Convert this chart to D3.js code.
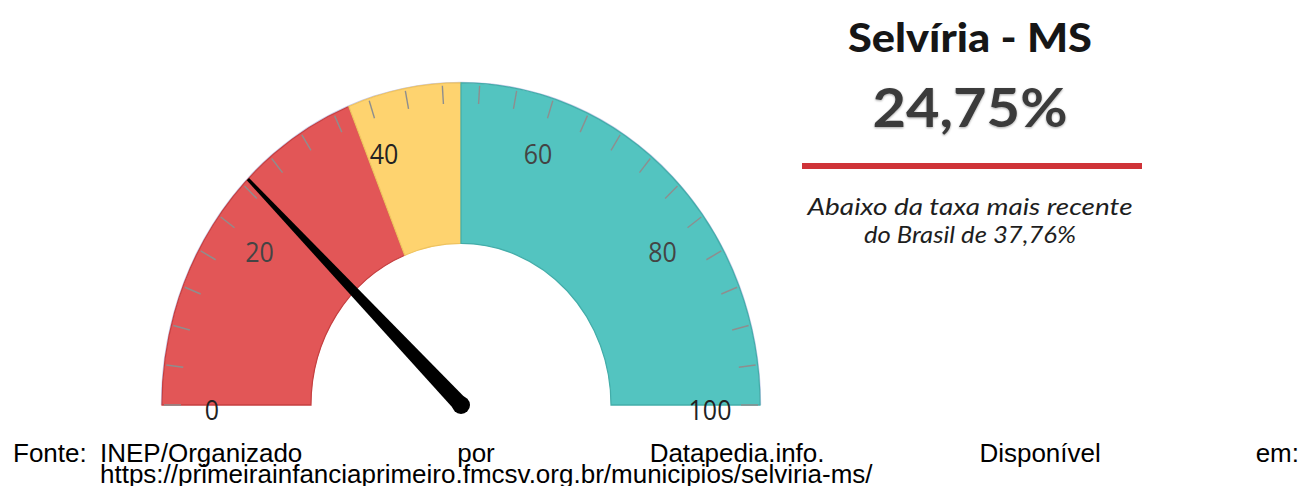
<!DOCTYPE html>
<html>
<head>
<meta charset="utf-8">
<script src="https://cdn.jsdelivr.net/npm/d3@7"></script>
<style>
  html, body { margin: 0; padding: 0; background: #ffffff; }
  svg { display: block; }
</style>
</head>
<body>
<svg id="chart" width="1304" height="486"></svg>
<script>
// Gauge bands: red up to the national rate, yellow up to 50, teal above.
const gaugeValue = 24.75;
const brazilRate = 37.76;
const bandBreaks = [0, brazilRate, 50, 100];
const bandColors = ["#E25657", "#FED36F", "#53C4C0"];
const bandEdges = ["#C53F40", "#EFC35F", "#43ADA9"];
const tickValues = d3.range(0, 101, 4);
const tickLabels = [0, 20, 40, 60, 80, 100];

const titleText = "Selvíria - MS";
const noteLine1 = "Abaixo da taxa mais recente";
const noteLine2Prefix = "do Brasil de ";
const sourceWords = ["INEP/Organizado", "por", "Datapedia.info.", "Disponível", "em:"];
const sourceLabel = "Fonte:";
const sourceUrl = "https://primeirainfanciaprimeiro.fmcsv.org.br/municipios/selviria-ms/";

const fmtPct = v => d3.format(".2f")(v).replace(".", ",") + "%";

const svg = d3.select("#chart");

// ---- gauge ----
const cx = 461, cy = 405;
const outerR = 299, innerR = 150, stretchY = 1.077;

const angle = d3.scaleLinear().domain([0, 100]).range([-Math.PI / 2, Math.PI / 2]);
const polar = (v, r) => [r * Math.sin(angle(v)), -r * Math.cos(angle(v))];

const g = svg.append("g")
  .attr("transform", `translate(${cx},${cy}) scale(1,${stretchY})`);

const arc = d3.arc().innerRadius(innerR).outerRadius(outerR);

const bands = d3.range(bandColors.length).map(i => ({
  startAngle: angle(bandBreaks[i]),
  endAngle: angle(bandBreaks[i + 1]),
  fill: bandColors[i],
  edge: bandEdges[i]
}));

// soft outer rim
g.append("path")
  .attr("d", d3.arc().innerRadius(outerR).outerRadius(outerR + 1.2)({
    startAngle: angle(0), endAngle: angle(100)
  }))
  .attr("fill", "#b9bde4")
  .attr("opacity", 0.8);

g.selectAll("path.band")
  .data(bands)
  .join("path")
  .attr("class", "band")
  .attr("d", arc)
  .attr("fill", d => d.fill)
  .attr("stroke", d => d.edge)
  .attr("stroke-width", 1.2);

// ticks
g.selectAll("line.tick")
  .data(tickValues)
  .join("line")
  .attr("class", "tick")
  .attr("x1", d => polar(d, outerR - 2)[0])
  .attr("y1", d => polar(d, outerR - 2)[1])
  .attr("x2", d => polar(d, outerR - 19)[0])
  .attr("y2", d => polar(d, outerR - 19)[1])
  .attr("stroke", "#8e8e8e")
  .attr("stroke-width", 1.4);

// tick labels
g.selectAll("text.lbl")
  .data(tickLabels)
  .join("text")
  .attr("class", "lbl")
  .attr("x", d => polar(d, 249)[0])
  .attr("y", d => polar(d, 249)[1] + 4.5)
  .attr("dy", "0.36em")
  .attr("text-anchor", "middle")
  .attr("font-family", "'Open Sans', 'Noto Sans', sans-serif")
  .attr("font-size", 25)
  .attr("fill", d => (d === 0 || d === 100 || d === 40) ? "#222" : "#444")
  .text(d => d);

// needle (drawn unstretched so its taper stays true)
const a = angle(gaugeValue);
const tip = [cx + outerR * Math.sin(a), cy - outerR * Math.cos(a) * stretchY];
const dx = tip[0] - cx, dy = tip[1] - cy;
const len = Math.hypot(dx, dy);
const ux = dx / len, uy = dy / len;
const px = -uy, py = ux;
const baseW = 8, tipW = 1.6;
const needlePts = [
  [cx + px * baseW, cy + py * baseW],
  [tip[0] + px * tipW, tip[1] + py * tipW],
  [tip[0] - px * tipW, tip[1] - py * tipW],
  [cx - px * baseW, cy - py * baseW]
];
svg.append("path")
  .attr("d", d3.line()(needlePts) + "Z")
  .attr("fill", "#000");
svg.append("circle")
  .attr("cx", cx).attr("cy", cy)
  .attr("r", 9)
  .attr("fill", "#000");

// ---- summary panel ----
const defs = svg.append("defs");
const sh = defs.append("filter").attr("id", "softShadow")
  .attr("x", "-10%").attr("y", "-10%").attr("width", "120%").attr("height", "130%");
sh.append("feDropShadow")
  .attr("dx", 0).attr("dy", 1).attr("stdDeviation", 1.2)
  .attr("flood-color", "#000").attr("flood-opacity", 0.35);

const panelX = 970;

svg.append("text")
  .attr("x", panelX).attr("y", 52)
  .attr("text-anchor", "middle")
  .attr("font-family", "Lato, sans-serif")
  .attr("font-weight", 900)
  .attr("font-size", 39)
  .attr("fill", "#161616")
  .attr("textLength", 244)
  .attr("lengthAdjust", "spacingAndGlyphs")
  .text(titleText);

svg.append("text")
  .attr("x", panelX).attr("y", 127)
  .attr("text-anchor", "middle")
  .attr("font-family", "Lato, sans-serif")
  .attr("font-weight", 700)
  .attr("font-size", 54)
  .attr("fill", "#3b3b3b")
  .attr("filter", "url(#softShadow)")
  .attr("textLength", 195)
  .attr("lengthAdjust", "spacingAndGlyphs")
  .text(fmtPct(gaugeValue));

svg.append("rect")
  .attr("x", 802).attr("y", 163)
  .attr("width", 340).attr("height", 6)
  .attr("fill", "#CF3338");

svg.append("text")
  .attr("x", panelX).attr("y", 215)
  .attr("text-anchor", "middle")
  .attr("font-family", "Lato, sans-serif")
  .attr("font-style", "italic")
  .attr("font-size", 23)
  .attr("fill", "#1e1e1e")
  .attr("textLength", 325)
  .attr("lengthAdjust", "spacingAndGlyphs")
  .text(noteLine1);

svg.append("text")
  .attr("x", panelX).attr("y", 243)
  .attr("text-anchor", "middle")
  .attr("font-family", "Lato, sans-serif")
  .attr("font-style", "italic")
  .attr("font-size", 23)
  .attr("fill", "#1e1e1e")
  .attr("textLength", 212)
  .attr("lengthAdjust", "spacingAndGlyphs")
  .text(noteLine2Prefix + fmtPct(brazilRate));

// ---- source note (justified first line) ----
const srcFont = "'Liberation Sans', Arial, sans-serif";
const srcSize = 26;
const lineLeft = 100, lineRight = 1299;

svg.append("text")
  .attr("x", 13).attr("y", 462)
  .attr("font-family", srcFont).attr("font-size", srcSize)
  .attr("fill", "#000")
  .text(sourceLabel);

const words = svg.selectAll("text.src")
  .data(sourceWords)
  .join("text")
  .attr("class", "src")
  .attr("y", 462)
  .attr("font-family", srcFont).attr("font-size", srcSize)
  .attr("fill", "#000")
  .text(d => d);

const widths = words.nodes().map(n => n.getComputedTextLength());
const gap = (lineRight - lineLeft - d3.sum(widths)) / (sourceWords.length - 1);
let xPos = lineLeft;
words.each(function(d, i) {
  d3.select(this).attr("x", xPos);
  xPos += widths[i] + gap;
});

svg.append("text")
  .attr("x", lineLeft).attr("y", 483)
  .attr("font-family", srcFont).attr("font-size", srcSize)
  .attr("fill", "#000")
  .text(sourceUrl);
</script>
</body>
</html>
